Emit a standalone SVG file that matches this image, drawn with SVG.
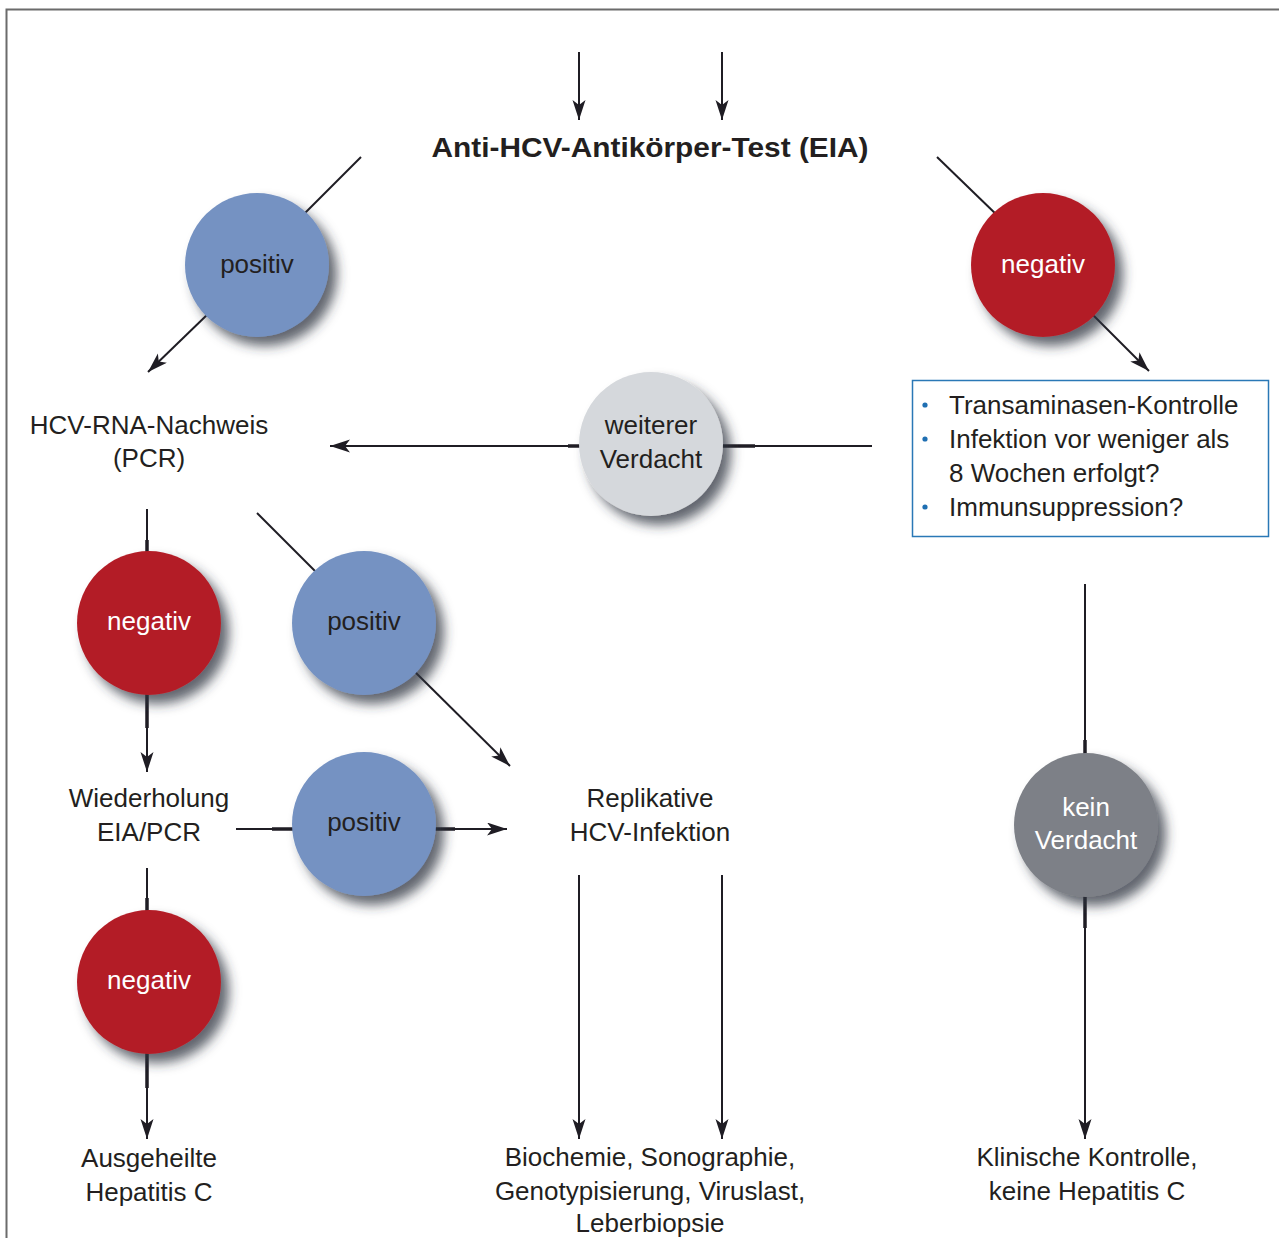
<svg xmlns="http://www.w3.org/2000/svg" width="1279" height="1238" viewBox="0 0 1279 1238">
<style>
.t{font-family:"Liberation Sans",Arial,sans-serif;font-size:26px;fill:#231f20;text-anchor:middle}
.w{fill:#ffffff}
.b{text-anchor:start}
.ln{stroke:#1f1d24;stroke-width:2;fill:none}
.th{stroke:#1f1d24;stroke-width:3.5;fill:none}
.ar{marker-end:url(#ah)}
.blue{fill:#7592c2}
.red{fill:#b31f28}
.lg{fill:#d5d8dc}
.dg{fill:#7d8087}
</style>
<defs>
<marker id="ah" markerUnits="userSpaceOnUse" markerWidth="22" markerHeight="14" refX="20" refY="6.5" orient="auto">
<path d="M0,0 L20,6.5 L0,13 L5,6.5 Z" fill="#1f1d24"/>
</marker>
<filter id="sh" x="-30%" y="-30%" width="170%" height="170%">
<feGaussianBlur in="SourceAlpha" stdDeviation="6"/>
<feOffset dx="8" dy="9" result="o"/>
<feFlood flood-color="#2e3440" flood-opacity="0.75"/>
<feComposite in2="o" operator="in"/>
<feMerge><feMergeNode/><feMergeNode in="SourceGraphic"/></feMerge>
</filter>
</defs>
<rect width="1279" height="1238" fill="#ffffff"/>
<path d="M6.5,1238 V9.5 H1279" fill="none" stroke="#6b6b6b" stroke-width="2"/>

<g id="connectors">
<line class="ln ar" x1="579" y1="52" x2="579" y2="120"/>
<line class="ln ar" x1="722" y1="52" x2="722" y2="120"/>
<line class="ln" x1="361" y1="157" x2="300" y2="218"/>
<line class="ln ar" x1="210" y1="312" x2="148" y2="372"/>
<line class="ln" x1="937" y1="157" x2="1000" y2="218"/>
<line class="ln ar" x1="1092" y1="314" x2="1149" y2="371"/>
<line class="ln" x1="872" y1="446" x2="700" y2="446"/>
<line class="th" x1="755" y1="446" x2="700" y2="446"/>
<line class="th" x1="600" y1="446" x2="568" y2="446"/>
<line class="ln ar" x1="600" y1="446" x2="330" y2="446"/>
<line class="ln" x1="147" y1="509" x2="147" y2="560"/>
<line class="th" x1="147" y1="540" x2="147" y2="560"/>
<line class="th" x1="147" y1="690" x2="147" y2="728"/>
<line class="ln ar" x1="147" y1="690" x2="147" y2="772"/>
<line class="ln" x1="257" y1="513" x2="320" y2="576"/>
<line class="ln ar" x1="410" y1="667" x2="510" y2="766"/>
<line class="ln" x1="236" y1="829" x2="300" y2="829"/>
<line class="th" x1="272" y1="829" x2="300" y2="829"/>
<line class="th" x1="430" y1="829" x2="455" y2="829"/>
<line class="ln ar" x1="430" y1="829" x2="507" y2="829"/>
<line class="ln" x1="147" y1="868" x2="147" y2="918"/>
<line class="th" x1="147" y1="898" x2="147" y2="918"/>
<line class="th" x1="147" y1="1048" x2="147" y2="1088"/>
<line class="ln ar" x1="147" y1="1048" x2="147" y2="1139"/>
<line class="ln ar" x1="579" y1="875" x2="579" y2="1139"/>
<line class="ln ar" x1="722" y1="875" x2="722" y2="1139"/>
<line class="ln" x1="1085" y1="584" x2="1085" y2="760"/>
<line class="th" x1="1085" y1="740" x2="1085" y2="760"/>
<line class="th" x1="1085" y1="890" x2="1085" y2="928"/>
<line class="ln ar" x1="1085" y1="890" x2="1085" y2="1139"/>
</g>

<g id="title">
<text x="650" y="157" font-family="'Liberation Sans',Arial,sans-serif" font-weight="bold" font-size="28" fill="#231f20" text-anchor="middle" textLength="437" lengthAdjust="spacingAndGlyphs">Anti-HCV-Antikörper-Test (EIA)</text>
</g>

<g id="n-positiv1">
<circle class="blue" cx="257" cy="265" r="72" filter="url(#sh)"/>
<text class="t" x="257" y="273">positiv</text>
</g>
<g id="n-negativ1">
<circle class="red" cx="1043" cy="265" r="72" filter="url(#sh)"/>
<text class="t w" x="1043" y="273">negativ</text>
</g>
<g id="n-hcvrna">
<text class="t" x="149" y="434">HCV-RNA-Nachweis</text>
<text class="t" x="149" y="467">(PCR)</text>
</g>
<g id="n-weiterer">
<circle class="lg" cx="651" cy="444" r="72" filter="url(#sh)"/>
<text class="t" x="651" y="434">weiterer</text>
<text class="t" x="651" y="468">Verdacht</text>
</g>
<g id="n-box">
<rect x="912.5" y="380.5" width="356" height="156" fill="#ffffff" stroke="#2a78b6" stroke-width="1.5"/>
<circle cx="925" cy="405" r="2.6" fill="#1f6fb2"/>
<circle cx="925" cy="439" r="2.6" fill="#1f6fb2"/>
<circle cx="925" cy="507" r="2.6" fill="#1f6fb2"/>
<text class="t b" x="949" y="414">Transaminasen-Kontrolle</text>
<text class="t b" x="949" y="448">Infektion vor weniger als</text>
<text class="t b" x="949" y="482">8 Wochen erfolgt?</text>
<text class="t b" x="949" y="516">Immunsuppression?</text>
</g>
<g id="n-negativ2">
<circle class="red" cx="149" cy="623" r="72" filter="url(#sh)"/>
<text class="t w" x="149" y="630">negativ</text>
</g>
<g id="n-positiv2">
<circle class="blue" cx="364" cy="623" r="72" filter="url(#sh)"/>
<text class="t" x="364" y="630">positiv</text>
</g>
<g id="n-wiederholung">
<text class="t" x="149" y="807">Wiederholung</text>
<text class="t" x="149" y="841">EIA/PCR</text>
</g>
<g id="n-positiv3">
<circle class="blue" cx="364" cy="824" r="72" filter="url(#sh)"/>
<text class="t" x="364" y="831">positiv</text>
</g>
<g id="n-replikative">
<text class="t" x="650" y="807">Replikative</text>
<text class="t" x="650" y="841">HCV-Infektion</text>
</g>
<g id="n-kein">
<circle class="dg" cx="1086" cy="825" r="72" filter="url(#sh)"/>
<text class="t w" x="1086" y="816">kein</text>
<text class="t w" x="1086" y="849">Verdacht</text>
</g>
<g id="n-negativ3">
<circle class="red" cx="149" cy="982" r="72" filter="url(#sh)"/>
<text class="t w" x="149" y="989">negativ</text>
</g>
<g id="n-ausgeheilte">
<text class="t" x="149" y="1167">Ausgeheilte</text>
<text class="t" x="149" y="1201">Hepatitis C</text>
</g>
<g id="n-biochemie">
<text class="t" x="650" y="1166">Biochemie, Sonographie,</text>
<text class="t" x="650" y="1200">Genotypisierung, Viruslast,</text>
<text class="t" x="650" y="1232">Leberbiopsie</text>
</g>
<g id="n-klinische">
<text class="t" x="1087" y="1166">Klinische Kontrolle,</text>
<text class="t" x="1087" y="1200">keine Hepatitis C</text>
</g>
</svg>
